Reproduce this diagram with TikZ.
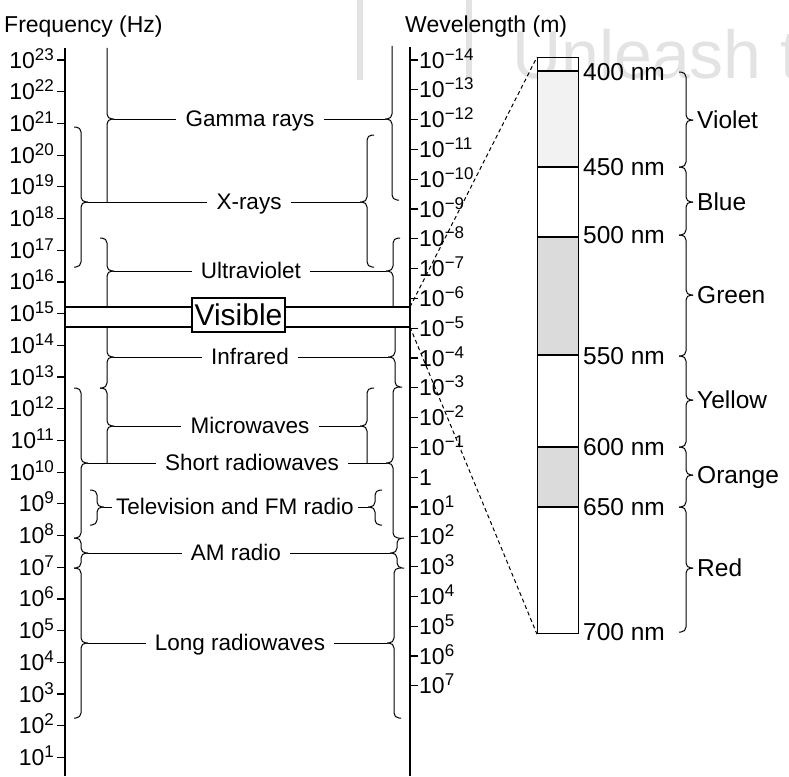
\documentclass[tikz,border=0pt]{standalone}
\usepackage{fontspec}
\setmainfont{Liberation Sans}
\newcommand{\expo}[1]{\raisebox{8pt}{\fontsize{17}{17}\selectfont #1}}
\newcommand{\mybrace}[5]{%
  \draw[br] ({#1-(#5)*7},#2) -- (#1,#2) -- (#1,#3) -- ({#1+(#5)*7},#3);
  \draw[br] ({#1+(#5)*7},#3) -- (#1,#3) -- (#1,#4) -- ({#1-(#5)*7},#4);}
\begin{document}
\begin{tikzpicture}[x=1pt,y=-1pt,
  axisline/.style={line width=1.7pt},
  tk/.style={line width=1.2pt},
  br/.style={line width=1pt,rounded corners=5pt},
  ln/.style={line width=1pt},
  band/.style={line width=1.5pt},
  lab/.style={font=\fontsize{22.5}{24}\selectfont,inner xsep=9pt,inner ysep=0pt,text height=16pt,text depth=1pt},
  tlab/.style={font=\fontsize{23}{24}\selectfont,inner sep=0pt},
  hdr/.style={font=\fontsize{23}{24}\selectfont,inner sep=0pt,anchor=base west},
  nm/.style={font=\fontsize{24.5}{26}\selectfont,inner sep=0pt,anchor=west,text height=17pt,text depth=0pt},
  col/.style={font=\fontsize{24.5}{26}\selectfont,inner sep=0pt,anchor=west,text height=17pt,text depth=0pt},
  dsh/.style={line width=1pt,dash pattern=on 4pt off 3pt},
  wm/.style={gray!22},
]
\useasboundingbox (0,0) rectangle (789,776);

% watermark
\fill[wm] (357,0) rectangle (363,80);
\fill[wm] (466,0) rectangle (472,78);
\node[anchor=base west,text=gray!22,font=\fontsize{68}{68}\selectfont,inner sep=0pt] (wmk) at (512,78) {Unleash t};

% headers
\node[hdr] (fq) at (4,33) {Frequency (Hz)};
\node[hdr] (wl) at (405,33) {Wevelength (m)};

% axes
\draw[axisline] (65,48) -- (65,776);
\draw[axisline] (410,47) -- (410,776);

% left ticks
\foreach \k in {1,...,23}{
  \pgfmathsetmacro{\yy}{60+(23-\k)*31.7}
  \draw[tk] (57,\yy) -- (65,\yy);
  \node[tlab,anchor=base east] (f\k) at (54,\yy+8) {10\expo{\k}};
}
% right ticks
\foreach \j in {0,...,21}{
  \pgfmathsetmacro{\yy}{60+\j*29.8}
  \draw[tk] (410,\yy) -- (418,\yy);
  \pgfmathtruncatemacro{\ee}{\j-14}
  \pgfmathtruncatemacro{\mm}{14-\j}
  \ifnum\ee<0
    \node[tlab,anchor=base west] (w\j) at (419,\yy+8) {10\expo{−\mm}};
  \else\ifnum\ee=0
    \node[tlab,anchor=base west] (w\j) at (419,\yy+8) {1};
  \else
    \node[tlab,anchor=base west] (w\j) at (419,\yy+8) {10\expo{\ee}};
  \fi\fi
}

% visible band
\coordinate (bTL) at (65,307);
\coordinate (bTR) at (410,307);
\coordinate (bBL) at (65,327);
\coordinate (bBR) at (410,327);
\draw[band] (bTL) -- (bTR);
\draw[band] (bBL) -- (bBR);
\node[draw,fill=white,line width=1.4pt,minimum width=93pt,minimum height=34pt,inner sep=0pt,font=\fontsize{30}{30}\selectfont] (vis) at (238.5,315) {Visible};

% labels
\node[lab] (gamma) at (250,119) {Gamma rays};
\node[lab] (xray) at (249,202) {X-rays};
\node[lab] (uv) at (251,271) {Ultraviolet};
\node[lab] (ir) at (250,357) {Infrared};
\node[lab] (micro) at (250,426) {Microwaves};
\node[lab] (short) at (252,463) {Short radiowaves};
\node[lab,inner xsep=4pt] (tv) at (235,507) {Television and FM radio};
\node[lab] (am) at (236,553) {AM radio};
\node[lab] (long) at (240,643) {Long radiowaves};

% left braces
\draw[br] (107,48) -- (107,119) -- (114,119);
\draw[br] (114,119) -- (107,119) -- (107,202);
\mybrace{81}{127}{202}{267}{1}
\draw[br] (100,238) -- (107,238) -- (107,271) -- (114,271);
\draw[br] (114,271) -- (107,271) -- (107,307);
\draw[br] (107,327) -- (107,357) -- (114,357);
\draw[br] (114,357) -- (107,357) -- (107,388) -- (100,388);
\draw[br] (100,388) -- (107,388) -- (107,426) -- (114,426);
\draw[br] (114,426) -- (107,426) -- (107,463);
\mybrace{81}{388}{463}{538}{1}
\mybrace{97}{490}{507}{525}{1}
\mybrace{81}{538}{553}{568}{1}
\mybrace{81}{568}{643}{718}{1}

% right braces
\draw[br] (392,46) -- (392,119) -- (385,119);
\draw[br] (385,119) -- (392,119) -- (392,200) -- (399,200);
\mybrace{367}{135}{202}{267}{-1}
\draw[br] (400,238) -- (393,238) -- (393,271) -- (386,271);
\draw[br] (386,271) -- (393,271) -- (393,307);
\draw[br] (395,327) -- (395,357) -- (388,357);
\draw[br] (388,357) -- (395,357) -- (395,387) -- (402,387);
\draw[br] (374,388) -- (367,388) -- (367,426) -- (360,426);
\draw[br] (360,426) -- (367,426) -- (367,463);
\mybrace{393}{387}{463}{538}{-1}
\mybrace{375}{490}{507}{525}{-1}
\mybrace{397}{538}{553}{568}{-1}
\mybrace{394}{568}{643}{718}{-1}

% tips
\coordinate (gL) at (114,119); \coordinate (gR) at (385,119);
\coordinate (xL) at (88,202);  \coordinate (xR) at (360,202);
\coordinate (uL) at (114,271); \coordinate (uR) at (386,271);
\coordinate (iL) at (114,357); \coordinate (iR) at (388,357);
\coordinate (mL) at (114,426); \coordinate (mR) at (360,426);
\coordinate (sL) at (88,463);  \coordinate (sR) at (386,463);
\coordinate (tL) at (104,507); \coordinate (tR) at (368,507);
\coordinate (aL) at (88,553);  \coordinate (aR) at (390,553);
\coordinate (lL) at (88,643);  \coordinate (lR) at (387,643);

\draw[ln] (gL) -- (gamma.west); \draw[ln] (gamma.east) -- (gR);
\draw[ln] (xL) -- (xray.west);  \draw[ln] (xray.east) -- (xR);
\draw[ln] (uL) -- (uv.west);    \draw[ln] (uv.east) -- (uR);
\draw[ln] (iL) -- (ir.west);    \draw[ln] (ir.east) -- (iR);
\draw[ln] (mL) -- (micro.west); \draw[ln] (micro.east) -- (mR);
\draw[ln] (sL) -- (short.west); \draw[ln] (short.east) -- (sR);
\draw[ln] (tL) -- (tv.west);    \draw[ln] (tv.east) -- (tR);
\draw[ln] (aL) -- (am.west);    \draw[ln] (am.east) -- (aR);
\draw[ln] (lL) -- (long.west);  \draw[ln] (long.east) -- (lR);

% spectrum bar
\fill[gray!10] (537,71) rectangle (578,167);
\fill[gray!28] (537,237) rectangle (578,355);
\fill[gray!28] (537,447) rectangle (578,507);
\node[draw,line width=1.2pt,minimum width=41pt,minimum height=576pt,anchor=north west,inner sep=0pt] (bar) at (537,57) {};
\foreach \yy in {71,167,237,355,447,507}{
  \draw[line width=1.1pt] (537,\yy) -- (578,\yy);
}
\draw[dsh] (bTR) -- (bar.north west);
\draw[dsh] (bBR) -- (bar.south west);

\node[nm] (n400) at (583,72) {400 nm};
\node[nm] (n450) at (583,167) {450 nm};
\node[nm] (n500) at (583,235) {500 nm};
\node[nm] (n550) at (583,356) {550 nm};
\node[nm] (n600) at (583,447) {600 nm};
\node[nm] (n650) at (583,507) {650 nm};
\node[nm] (n700) at (583,632) {700 nm};

% colour braces
\mybrace{686}{72}{120}{167}{1}
\mybrace{686}{167}{202}{235}{1}
\mybrace{686}{235}{295}{356}{1}
\mybrace{686}{356}{400}{447}{1}
\mybrace{686}{447}{475}{507}{1}
\mybrace{686}{507}{568}{632}{1}

\node[col] (cv) at (697,120) {Violet};
\node[col] (cb) at (697,202) {Blue};
\node[col] (cg) at (697,295) {Green};
\node[col] (cy) at (697,400) {Yellow};
\node[col] (co) at (697,475) {Orange};
\node[col] (cr) at (697,568) {Red};
\end{tikzpicture}
\end{document}
